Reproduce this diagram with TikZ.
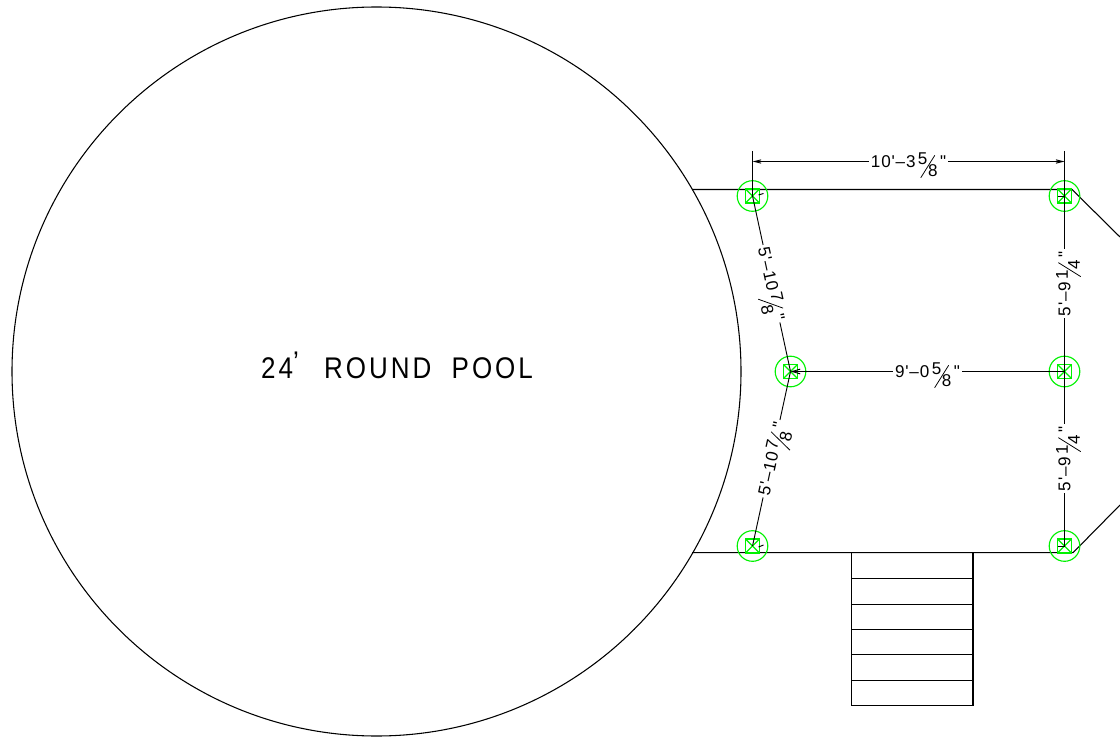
\documentclass[tikz,border=0pt]{standalone}
\usepackage{fontspec}
\usepackage{graphicx}
\setmainfont{Liberation Sans}
\newfontfamily\poolfont[FakeStretch=0.87,LetterSpace=10]{Liberation Sans}
\newfontfamily\dimfont[LetterSpace=5]{Liberation Sans}
\usetikzlibrary{arrows.meta}
\newcommand{\frc}[2]{\kern.14em\raisebox{.15em}[0pt][0pt]{#1}\kern.02em\makebox[0pt]{\raisebox{-.62em}[0pt][0pt]{\rotatebox{58}{\rule{1.55em}{.045em}}}}\kern.02em\raisebox{-.55em}[0pt][0pt]{#2}\kern.14em}
\newcommand{\dimtxt}[2]{\dimfont\fontsize{12.8}{13}\selectfont #1\kern.04em–\kern.06em#2}
\tikzset{
  x=0.75pt,y=-0.75pt,
  cad/.style={draw=black,line width=0.8pt},
  green post/.style={draw=green!95!black,line width=0.85pt},
  dimline/.style={cad,line width=0.7pt,-{Straight Barb[length=6pt,width=3.5pt]}},
  dimboth/.style={cad,line width=0.7pt,{Straight Barb[length=5pt,width=2.5pt]}-{Straight Barb[length=5pt,width=2.5pt]}},
  dimplain/.style={cad,line width=0.7pt},
  dimlabel/.style={fill=white,inner sep=1.5pt,text=black},
  pool label/.style={text=black,font=\poolfont\fontsize{22.4}{24}\selectfont},
}
\begin{document}
\begin{tikzpicture}
\useasboundingbox (0,0) rectangle (1120,738);
\fill[white] (0,0) rectangle (1120,738);
% named points
\coordinate (p1) at (752.5,196);
\coordinate (p2) at (1064.5,196);
\coordinate (p3) at (790.5,371.5);
\coordinate (p4) at (1064.5,371.5);
\coordinate (p5) at (752.5,546);
\coordinate (p6) at (1064.5,546);
\coordinate (e1) at (752.5,151);
\coordinate (e2) at (1064.5,151);
\coordinate (d1) at (752.5,161.5);
\coordinate (d2) at (1064.5,161.5);
\coordinate (tl) at (692,189.5);
\coordinate (tr) at (1072,189.5);
\coordinate (bl) at (692,552.7);
\coordinate (br) at (1073,552.7);
\coordinate (tro) at (1120,237);
\coordinate (bro) at (1120,505);
% pool
\node[cad,circle,minimum size=546.75pt,inner sep=0pt] (pool) at (376.5,371.5) {};
\node[pool label] (poollabel) at (397,365.5) {24\raisebox{.2em}{’}\hspace{.85em}ROUND\hspace{.68em}POOL};
% deck outline
\draw[cad] (tl) -- (tr) -- (tro);
\draw[cad] (bl) -- (br) -- (bro);
% stairs
\coordinate (s0) at (851.5,552.7); \coordinate (s0r) at (973,552.7);
\coordinate (s6) at (851.5,705.5); \coordinate (s6r) at (973,705.5);
\draw[cad] (s0) -- (s6) -- (s6r) -- (s0r);
\foreach \y in {578.5,604.5,629.5,654.5,680.5}
  \draw[cad] (851.5,\y) -- (973,\y);
% posts
\foreach \p in {p1,p2,p3,p4,p5,p6}{
  \draw[green post] (\p) circle[radius=15.3];
  \draw[green post] ([shift={(-7,-7)}]\p) rectangle ([shift={(7,7)}]\p);
  \draw[green post] ([shift={(-7,-7)}]\p) -- ([shift={(7,7)}]\p);
  \draw[green post] ([shift={(-7,7)}]\p) -- ([shift={(7,-7)}]\p);
}
% extension lines
\draw[cad] (e1) -- (p1);
\draw[cad] (e2) -- (p2);
% dimensions
\draw[dimboth] (d1) -- node[dimlabel,pos=.5] (dtop) {\dimtxt{10'}{3\frc{5}{8}"}} (d2);
\draw[dimline] (p4) -- node[dimlabel,pos=.5] (dmid) {\dimtxt{9'}{0\frc{5}{8}"}} (p3);
\draw[dimplain] (p1) -- node[dimlabel,sloped,allow upside down,pos=.5] (dl1) {\dimtxt{5'}{10\frc{7}{8}"}} (p3);
\draw[dimplain] (p5) -- node[dimlabel,sloped,pos=.5] (dl2) {\dimtxt{5'}{10\frc{7}{8}"}} (p3);
\draw[dimplain] (p2) -- node[dimlabel,pos=.5,rotate=90] (dr1) {\dimtxt{5'}{9\frc{1}{4}"}} (p4);
\draw[dimplain] (p6) -- node[dimlabel,pos=.5,rotate=90] (dr2) {\dimtxt{5'}{9\frc{1}{4}"}} (p4);
% arrow barbs at the posts
\draw[dimplain] ([shift={(6,-1)}]p1) -- ++(5,-1.5);
\draw[dimplain] ([shift={(6,1)}]p5) -- ++(5,-2);
\draw[dimplain] ([shift={(-7,0)}]p2) -- ++(7,0);
\draw[dimplain] ([shift={(-7,0)}]p6) -- ++(7,0);
\end{tikzpicture}
\end{document}
